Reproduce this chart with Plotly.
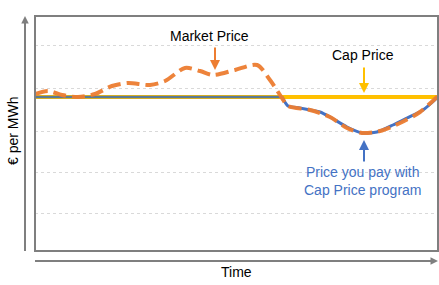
import plotly.graph_objects as go

# Data (time units are arbitrary; price in arbitrary units)
mkt_t = [0, 13, 27, 43, 60, 77, 93, 115, 130, 150, 165, 178, 200, 222, 235, 247, 253, 275, 295, 312, 327, 345, 365, 385, 403]
mkt_p = [157, 160, 156, 154, 157, 165, 168, 166, 170, 183, 180, 176, 181, 186, 171, 153, 145, 141, 134, 123, 118, 120, 128, 139, 155]

cap_t = [0, 403]
cap_p = [154, 154]

pay_t = [0, 247, 253, 265, 285, 295, 312, 327, 342, 358, 372, 388, 403]
pay_p = [154, 154, 145, 143, 139, 134, 124, 118, 119, 126, 133, 141, 154]

grid_vals = [38, 79, 120, 163, 206]

fig = go.Figure()
fig.add_trace(go.Scatter(x=cap_t, y=cap_p, mode="lines",
                         line=dict(color="#FFC000", width=4), hoverinfo="skip"))
# flat (capped) part of the price you pay
fig.add_trace(go.Scatter(x=pay_t[:2], y=pay_p[:2], mode="lines",
                         line=dict(color="#3F6FB0", width=2.5), opacity=0.85, hoverinfo="skip"))
# below-cap part
fig.add_trace(go.Scatter(x=pay_t[1:], y=pay_p[1:], mode="lines",
                         line=dict(color="#4472C4", width=3, shape="spline", smoothing=0.6),
                         hoverinfo="skip"))
fig.add_trace(go.Scatter(x=mkt_t, y=mkt_p, mode="lines",
                         line=dict(color="#ED7D31", width=4, dash="13px,6px", shape="spline", smoothing=0.8),
                         opacity=0.95, hoverinfo="skip"))

font = dict(family="Liberation Sans, Arial, sans-serif", size=14, color="#000000")

fig.update_layout(
    width=439, height=285,
    margin=dict(l=35, r=1, t=16, b=34),
    plot_bgcolor="white", paper_bgcolor="white",
    showlegend=False,
    xaxis=dict(range=[0, 403], showgrid=False, zeroline=False, showticklabels=False,
               ticks="", showline=False, fixedrange=True),
    yaxis=dict(range=[0, 235], tickvals=grid_vals, showgrid=True, gridcolor="#D9D9D9",
               griddash="dot", gridwidth=1, zeroline=False, showticklabels=False,
               ticks="", showline=False, fixedrange=True),
)

# plot frame
fig.add_shape(type="rect", xref="paper", yref="paper", x0=0, y0=0, x1=1, y1=1,
              line=dict(color="#7F7F7F", width=2), layer="above")

# outside axis arrows
fig.add_shape(type="line", xref="paper", yref="paper", x0=-10/403, x1=-10/403, y0=0, y1=(251-22)/235,
              line=dict(color="#7F7F7F", width=2))
fig.add_annotation(xref="paper", yref="paper", x=-10/403, y=(251-16)/235, ax=0, ay=8,
                   showarrow=True, arrowhead=2, arrowsize=1,
                   arrowwidth=1.5, arrowcolor="#7F7F7F", text="")
fig.add_shape(type="line", xref="paper", yref="paper", x0=0, x1=(431-35)/403, y0=-10/235, y1=-10/235,
              line=dict(color="#7F7F7F", width=2))
fig.add_annotation(xref="paper", yref="paper", x=1, y=-10/235, ax=-8, ay=0,
                   showarrow=True, arrowhead=2, arrowsize=1,
                   arrowwidth=1.5, arrowcolor="#7F7F7F", text="")

# axis titles
fig.add_annotation(xref="paper", yref="paper", x=-22/403, y=(251-131)/235, text="€ per MWh",
                   textangle=-90, showarrow=False, font=font, xanchor="center", yanchor="middle")
fig.add_annotation(xref="paper", yref="paper", x=(237-35)/403, y=-21/235, text="Time",
                   showarrow=False, font=font, xanchor="center", yanchor="middle")

# labels with arrows
fig.add_annotation(x=174, y=215, text="Market Price", showarrow=False, font=font)
fig.add_annotation(x=180, y=181, ax=180, ay=205, axref="x", ayref="y", text="",
                   showarrow=True, arrowhead=2, arrowsize=1, arrowwidth=2, arrowcolor="#ED7D31")

fig.add_annotation(x=328, y=196, text="Cap Price", showarrow=False, font=font)
fig.add_annotation(x=329, y=158, ax=329, ay=185, axref="x", ayref="y", text="",
                   showarrow=True, arrowhead=2, arrowsize=1, arrowwidth=2, arrowcolor="#FFC000")

fig.add_annotation(x=329, y=111, ax=329, ay=88, axref="x", ayref="y", text="",
                   showarrow=True, arrowhead=2, arrowsize=1, arrowwidth=2, arrowcolor="#4472C4")
fig.add_annotation(x=328, y=70, text="Price you pay with<br>Cap Price program", showarrow=False,
                   font=dict(family="Liberation Sans, Arial, sans-serif", size=14, color="#4472C4"))

fig.write_html("out.html")
